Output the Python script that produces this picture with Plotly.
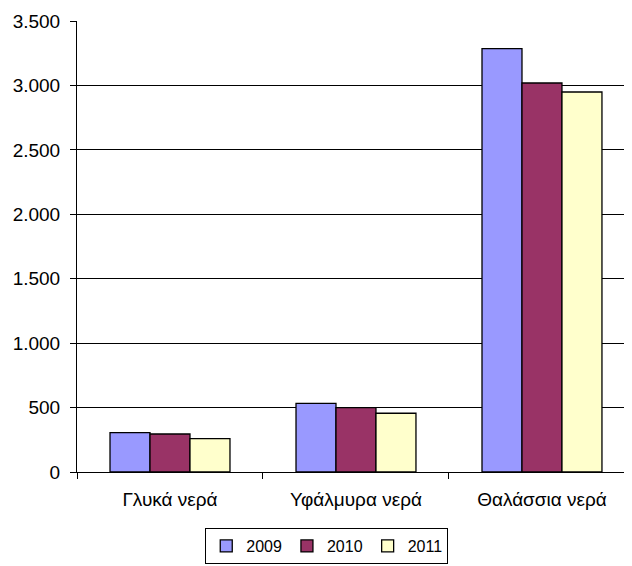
import plotly.graph_objects as go

categories = ["Γλυκά νερά", "Υφάλμυρα νερά", "Θαλάσσια νερά"]
years = ["2009", "2010", "2011"]
values_2009 = [306, 533, 3285]
values_2010 = [295, 500, 3019]
values_2011 = [259, 456, 2949]
colors = ["#9999FF", "#993366", "#FFFFCC"]
y_ticks = [0, 500, 1000, 1500, 2000, 2500, 3000, 3500]

font_family = "Liberation Sans, Arial, sans-serif"

fig = go.Figure()
for name, vals, col in zip(years, [values_2009, values_2010, values_2011], colors):
    fig.add_trace(go.Bar(
        x=categories, y=vals, name=name,
        marker=dict(color=col, line=dict(color="black", width=1.3)),
    ))

fig.update_layout(
    width=624, height=558,
    margin=dict(l=69, r=0, t=13, b=94),
    paper_bgcolor="white", plot_bgcolor="white",
    separators=",.",
    barmode="group", bargap=0.355, bargroupgap=0,
    font=dict(family=font_family, size=18, color="black"),
    showlegend=True,
    legend=dict(
        orientation="h", x=0.45, xanchor="center", y=-0.204, yanchor="bottom",
        bordercolor="black", borderwidth=1, font=dict(size=16),
        itemwidth=30, tracegroupgap=0, traceorder="normal",
    ),
    xaxis=dict(
        type="category", range=[-0.5, 2.484],
        showline=True, linecolor="black", linewidth=1,
        ticks="outside", tickson="boundaries", ticklen=6, tickcolor="black",
        ticklabelstandoff=10,
        showgrid=False, zeroline=False,
        tickfont=dict(size=19),
    ),
    yaxis=dict(
        range=[0, 3500], tickvals=y_ticks, tickformat=",d",
        showline=True, linecolor="black", linewidth=1,
        ticks="outside", ticklen=6, tickcolor="black",
        showgrid=True, gridcolor="black", gridwidth=1,
        zeroline=False, ticklabelstandoff=6,
        tickfont=dict(size=19),
    ),
)

fig.write_html("out.html")
